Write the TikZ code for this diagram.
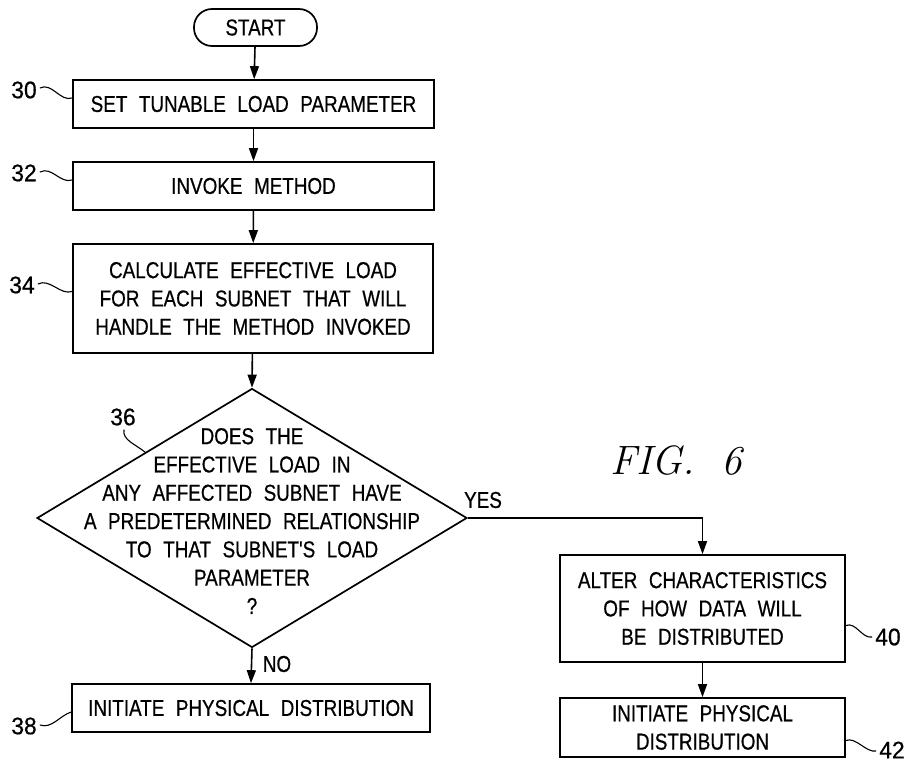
\documentclass[tikz,border=0pt]{standalone}
\usepackage{fontspec}
\newfontfamily\pfont[FakeStretch=0.82,WordSpace=2.2,FakeBold=0.6]{Liberation Sans}
\newfontfamily\nfont[FakeStretch=0.95,FakeBold=0.6]{Liberation Sans}
\usetikzlibrary{arrows.meta,shapes.geometric,calc}
\begin{document}
\begin{tikzpicture}[x=1pt,y=-1pt,
  every node/.style={font=\pfont\fontsize{23}{28.3}\selectfont},
  box/.style={draw,line width=1.7pt,rectangle,inner sep=0pt,align=center},
  lbl/.style={inner sep=0pt,font=\nfont\fontsize{24}{24}\selectfont},
  flow/.style={line width=1.6pt,-{Triangle[length=13pt,width=9pt]}},
  lead/.style={line width=1.1pt}]
\useasboundingbox (0,0) rectangle (915,773);
% nodes
\node[box,rounded corners=18pt,minimum width=123pt,minimum height=37pt] (start) at (255.5,27.5) {START};
\node[box,minimum width=361pt,minimum height=48pt] (b30) at (253.5,104) {SET TUNABLE LOAD PARAMETER};
\node[box,minimum width=361pt,minimum height=48pt] (b32) at (253.5,186) {INVOKE METHOD};
\node[box,minimum width=360pt,minimum height=109pt] (b34) at (253,298.5) {CALCULATE EFFECTIVE LOAD\\FOR EACH SUBNET THAT WILL\\HANDLE THE METHOD INVOKED};
\node[draw,line width=1.7pt,shape=diamond,inner sep=0pt,minimum width=430pt,minimum height=259pt] (d) at (252,518) {};
\node[align=center,inner sep=0pt] (dt) at (252,521) {DOES THE\\EFFECTIVE LOAD IN\\ANY AFFECTED SUBNET HAVE\\A PREDETERMINED RELATIONSHIP\\TO THAT SUBNET'S LOAD\\PARAMETER\\?};
\node[box,minimum width=358pt,minimum height=48pt] (b38) at (251,708) {INITIATE PHYSICAL DISTRIBUTION};
\node[box,minimum width=285pt,minimum height=107pt] (b40) at (702.5,608.5) {ALTER CHARACTERISTICS\\OF HOW DATA WILL\\BE DISTRIBUTED};
\node[box,minimum width=285pt,minimum height=59pt] (b42) at (702.5,727.5) {INITIATE PHYSICAL\\DISTRIBUTION};
\coordinate (turn) at (b40.north |- d.east);
% labels
\node[lbl] (l30) at (24,90) {30};
\node[lbl] (l32) at (24,173) {32};
\node[lbl] (l34) at (22,285) {34};
\node[lbl] (l36) at (123,417) {36};
\node[lbl] (l38) at (24,726) {38};
\node[lbl] (l40) at (888,637) {40};
\node[lbl] (l42) at (892,750) {42};
\node[inner sep=0pt] (no) at (277,664) {NO};
\node[inner sep=0pt] (yes) at (483,500) {YES};
\node[inner sep=0pt,font=\fontsize{41}{41}\selectfont\itshape] (fig) at (676,460) {FIG.\hspace{26pt}6};
% connectors
\draw[flow] (start) -- (b30);
\draw[flow] (b30) -- (b32);
\draw[flow] (b32) -- (b34);
\draw[flow] (b34) -- (d.north);
\draw[flow] (d.south) -- (b38.north);
\draw[line width=1.6pt] (d.east) -- (turn);
\draw[flow] (turn) -- (b40.north);
\draw[flow] (b40) -- (b42);
% leaders
\draw[lead] (l30.east) ++(3,-2) .. controls +(12,-6) and +(-12,4) .. ($(b30.west)+(0,-6)$);
\draw[lead] (l32.east) ++(3,-1) .. controls +(12,-6) and +(-12,4) .. ($(b32.west)+(0,-6)$);
\draw[lead] (l34.east) ++(3,-1) .. controls +(12,-6) and +(-12,4) .. ($(b34.west)+(0,-7)$);
\draw[lead] (l36.south) ++(1,4) .. controls +(-2,10) and +(-10,-8) .. ($(d.west)!0.505!(d.north)$);
\draw[lead] (l38.east) ++(3,-1) .. controls +(12,4) and +(-12,4) .. ($(b38.west)+(0,4)$);
\draw[lead] ($(b40.east)+(0,17)$) .. controls +(10,-4) and +(-10,2) .. ($(l40.west)+(-3,0)$);
\draw[lead] ($(b42.east)+(0,13)$) .. controls +(10,-4) and +(-10,2) .. ($(l42.west)+(-3,1)$);
\end{tikzpicture}
\end{document}
